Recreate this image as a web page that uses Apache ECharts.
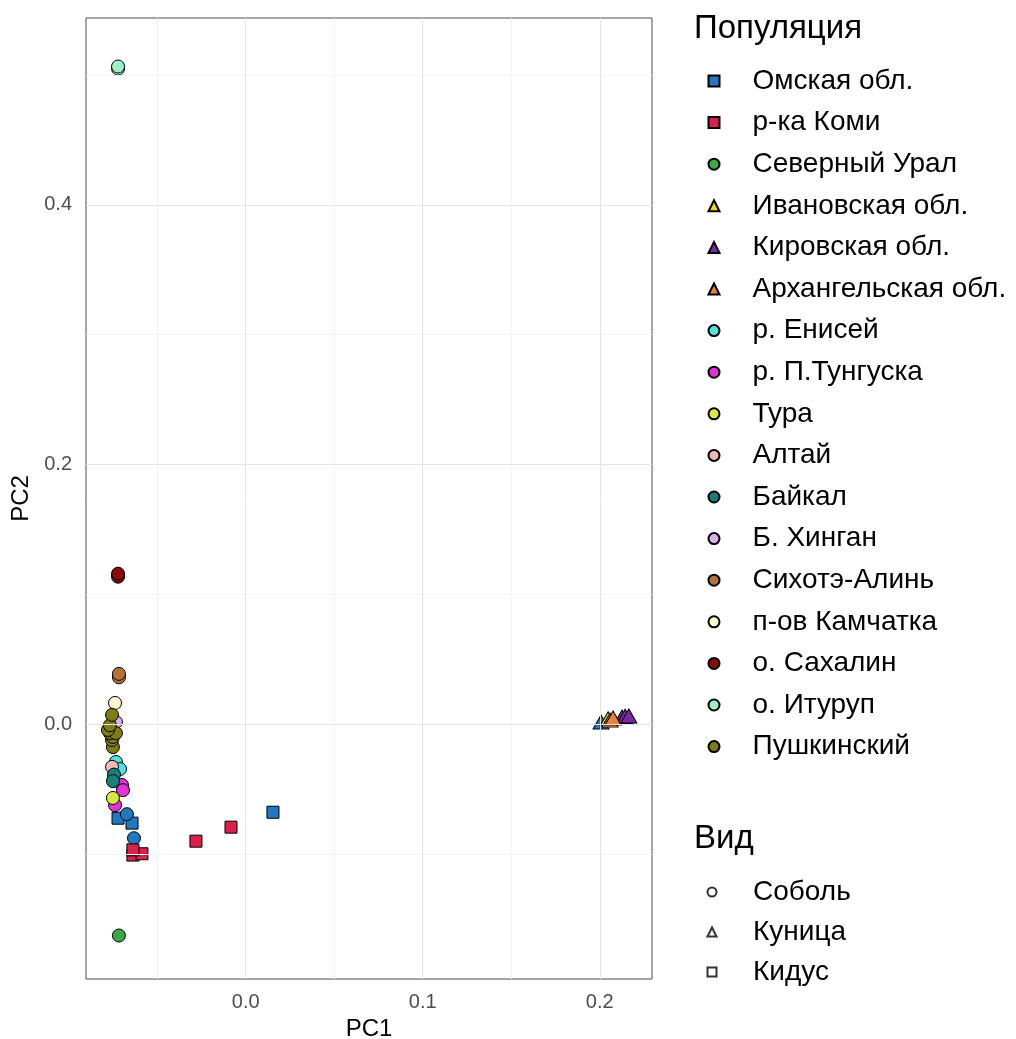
<!DOCTYPE html>
<html><head><meta charset="utf-8">
<script src="https://cdn.jsdelivr.net/npm/echarts@6/dist/echarts.min.js"></script>
<style>html,body{margin:0;padding:0;background:#fff}#c{width:1016px;height:1039px}</style>
</head><body><div id="c"></div>
<script>
// Population names and colours
const populations = ['Омская обл.','р-ка Коми','Северный Урал','Ивановская обл.','Кировская обл.','Архангельская обл.','р. Енисей','р. П.Тунгуска','Тура','Алтай','Байкал','Б. Хинган','Сихотэ-Алинь','п-ов Камчатка','о. Сахалин','о. Итуруп','Пушкинский'];
const popColors = ['#1f78c1','#dc1f4b','#3aa845','#f2d80f','#7b2aa3','#e8823a','#4fe3e3','#e233d8','#d7e93f','#f4b9b5','#16807c','#dcb0ef','#b5733a','#fbfbcf','#8a0a0a','#9cf2c4','#7d7d12'];
const popLegendShape = ['Кидус','Кидус','Соболь','Куница','Куница','Куница','Соболь','Соболь','Соболь','Соболь','Соболь','Соболь','Соболь','Соболь','Соболь','Соболь','Соболь'];
// Species
const species = ['Соболь','Куница','Кидус'];
// Points per population: [PC1, PC2, species]
const omsk = [[-0.0721,-0.0726,'Кидус'],[-0.0642,-0.0764,'Кидус'],[0.0154,-0.068,'Кидус'],[-0.0671,-0.0695,'Соболь'],[-0.0631,-0.088,'Соболь'],[0.2007,0.0015,'Куница']];
const komi = [[-0.0637,-0.101,'Кидус'],[-0.0586,-0.100,'Кидус'],[-0.0637,-0.097,'Кидус'],[-0.0281,-0.0903,'Кидус'],[-0.0083,-0.0795,'Кидус']];
const northUral = [[-0.0716,-0.163,'Соболь']];
const ivanovo = [[0.2047,0.004,'Куница']];
const kirov = [[0.2126,0.0054,'Куница'],[0.2143,0.006,'Куница'],[0.2164,0.0062,'Куница']];
const arkhangelsk = [[0.2058,0.003,'Куница'],[0.2075,0.0046,'Куница']];
const yenisei = [[-0.0733,-0.0293,'Соболь'],[-0.0710,-0.0347,'Соболь']];
const tunguska = [[-0.0699,-0.047,'Соболь'],[-0.0693,-0.051,'Соболь'],[-0.0738,-0.0625,'Соболь']];
const tura = [[-0.0750,-0.057,'Соболь']];
const altai = [[-0.0755,-0.033,'Соболь']];
const baikal = [[-0.0744,-0.039,'Соболь'],[-0.0750,-0.044,'Соболь']];
const khingan = [[-0.0733,0.0015,'Соболь']];
const sikhote = [[-0.0716,0.036,'Соболь'],[-0.0716,0.0386,'Соболь']];
const kamchatka = [[-0.0738,0.0162,'Соболь']];
const sakhalin = [[-0.0721,0.1135,'Соболь'],[-0.0721,0.1158,'Соболь']];
const iturup = [[-0.0721,0.505,'Соболь'],[-0.0721,0.5066,'Соболь']];
const pushkinsky = [[-0.0750,-0.0178,'Соболь'],[-0.0755,-0.0124,'Соболь'],[-0.0750,-0.010,'Соболь'],[-0.0767,-0.007,'Соболь'],[-0.0733,-0.007,'Соболь'],[-0.0778,-0.0046,'Соболь'],[-0.0767,-0.001,'Соболь'],[-0.0755,0.007,'Соболь']];
const popData = [omsk,komi,northUral,ivanovo,kirov,arkhangelsk,yenisei,tunguska,tura,altai,baikal,khingan,sikhote,kamchatka,sakhalin,iturup,pushkinsky];
// Axis ticks
const xRange = [-0.0902, 0.2295];
const yRange = [-0.1965, 0.544];
const xTicks = [0, 0.1, 0.2];
const yTicks = [0, 0.2, 0.4];
const xMajor = [0, 0.1, 0.2];
const xMinor = [-0.05, 0.05, 0.15];
const yMajor = [0, 0.2, 0.4];
const yMinor = [-0.1, 0.1, 0.3, 0.5];

const shapeOf = {'Соболь':'circle','Куница':'triangle','Кидус':'rect'};
const sizeOf = {'Соболь':13,'Куница':[16,14],'Кидус':12};

const series = [];
const gl = (arr, key, color) => arr.map(v => ({[key]: v, lineStyle:{color:color, width:1, type:'solid'}}));
series.push({
  type:'scatter', data:[], silent:true, z:0,
  markLine:{silent:true, symbol:['none','none'], label:{show:false}, animation:false,
    data:[...gl(xMinor,'xAxis','#f3f3f3'),...gl(yMinor,'yAxis','#f3f3f3'),...gl(xMajor,'xAxis','#e4e4e4'),...gl(yMajor,'yAxis','#e4e4e4')]}
});
populations.forEach((p,i) => {
  series.push({
    name:p, type:'scatter', z:2,
    symbol: shapeOf[popLegendShape[i]],
    itemStyle:{color:popColors[i], borderColor:'#000', borderWidth:1, opacity:1},
    data: popData[i].map(d => ({value:[d[0],d[1]], symbol:shapeOf[d[2]], symbolSize:sizeOf[d[2]]})),
    emphasis:{disabled:true}
  });
});
species.forEach(s => {
  series.push({name:s, type:'scatter', symbol:shapeOf[s], data:[], itemStyle:{color:'#fff', borderColor:'#000', borderWidth:1}});
});

const chart = echarts.init(document.getElementById('c'));
chart.setOption({
  animation:false,
  backgroundColor:'#fff',
  textStyle:{fontFamily:'Liberation Sans, Arial, sans-serif'},
  title:[
    {text:'Популяция', left:689, top:7, textStyle:{fontSize:33, fontWeight:'normal', color:'#000', fontFamily:'Liberation Sans'}},
    {text:'Вид', left:689, top:817, textStyle:{fontSize:33, fontWeight:'normal', color:'#000', fontFamily:'Liberation Sans'}}
  ],
  legend:[
    {data:populations, orient:'vertical', left:702.5, top:62, itemGap:13.6, itemWidth:11, itemHeight:11,
     textStyle:{fontSize:28, color:'#000', padding:[0,0,0,28], fontFamily:'Liberation Sans'}, selectedMode:false},
    {data:species, orient:'vertical', left:701.5, top:873, itemGap:12, itemWidth:9, itemHeight:9,
     textStyle:{fontSize:28, color:'#000', padding:[0,0,0,31.5], fontFamily:'Liberation Sans'}, selectedMode:false}
  ],
  grid:{left:86, right:364, top:18, bottom:60, show:true, borderColor:'#4d4d4d', borderWidth:1, backgroundColor:'transparent', containLabel:false, outerBoundsMode:'none'},
  xAxis:{type:'value', min:xRange[0], max:xRange[1], name:'PC1', nameLocation:'middle', nameGap:37,
    nameTextStyle:{fontSize:24, color:'#000'},
    axisLine:{show:false}, splitLine:{show:false},
    axisTick:{show:true, customValues:xTicks, length:5, lineStyle:{color:'#333'}},
    axisLabel:{customValues:xTicks, color:'#4d4d4d', fontSize:20, margin:13, formatter:v=>v.toFixed(1)}},
  yAxis:{type:'value', min:yRange[0], max:yRange[1], name:'PC2', nameLocation:'middle', nameGap:49,
    nameTextStyle:{fontSize:24, color:'#000'},
    axisLine:{show:false}, splitLine:{show:false},
    axisTick:{show:true, customValues:yTicks, length:5, lineStyle:{color:'#333'}},
    axisLabel:{customValues:yTicks, color:'#4d4d4d', fontSize:20, margin:14, formatter:v=>v.toFixed(1)}},
  series:series
});
</script></body></html>
